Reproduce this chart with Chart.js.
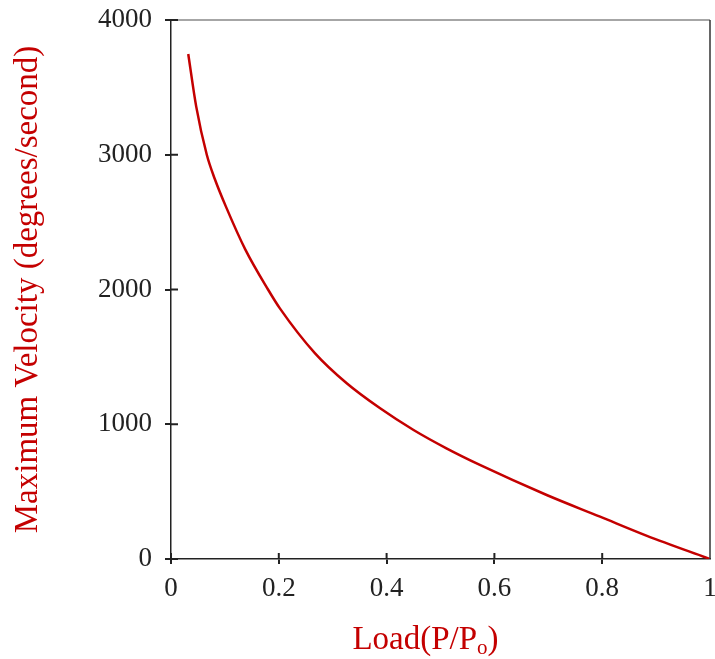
<!DOCTYPE html>
<html>
<head>
<meta charset="utf-8">
<title>Load vs Maximum Velocity</title>
<script src="https://cdn.jsdelivr.net/npm/chart.js@4/dist/chart.umd.min.js"></script>
<style>
  html, body { margin: 0; padding: 0; background: #fff; }
  #chart { display: block; }
</style>
</head>
<body>
<canvas id="chart" width="715" height="659"></canvas>
<script>
// load (fraction of P0) vs maximum shortening velocity
const LOAD = [0.032, 0.0468, 0.0664, 0.0811, 0.1019, 0.1375, 0.18, 0.202, 0.2673, 0.326, 0.388, 0.45, 0.511, 0.573, 0.697, 0.796, 0.883, 1.0];
const VELOCITY = [3748, 3357, 3000, 2822, 2615, 2300, 2000, 1860, 1526, 1304, 1118, 957, 821, 698, 475, 314, 172, 0];

const X_TICKS = [0, 0.2, 0.4, 0.6, 0.8, 1];
const Y_TICKS = [0, 1000, 2000, 3000, 4000];

const RED = '#c40000';
const INK = '#222';
const FONT = 'Liberation Serif';

// closes the box (top + right) and draws the inner half of each tick mark
const framePlugin = {
  id: 'frame',
  afterDraw(chart) {
    const { ctx, chartArea: a, scales } = chart;
    ctx.save();
    ctx.lineWidth = 1.5;
    ctx.strokeStyle = '#888';
    ctx.beginPath();
    ctx.moveTo(a.left, a.top);
    ctx.lineTo(a.right, a.top);
    ctx.stroke();
    ctx.strokeStyle = '#333';
    ctx.beginPath();
    ctx.moveTo(a.right, a.top);
    ctx.lineTo(a.right, a.bottom);
    ctx.stroke();

    ctx.strokeStyle = INK;
    ctx.lineWidth = 2;
    scales.x.ticks.forEach(t => {
      if (t.value === 1) return;
      const px = scales.x.getPixelForValue(t.value);
      ctx.beginPath();
      ctx.moveTo(px, a.bottom);
      ctx.lineTo(px, a.bottom - 6);
      ctx.stroke();
    });
    scales.y.ticks.forEach(t => {
      const py = scales.y.getPixelForValue(t.value);
      ctx.beginPath();
      ctx.moveTo(a.left, py);
      ctx.lineTo(a.left + 7, py);
      ctx.stroke();
    });
    ctx.restore();
  }
};

// x axis title with a subscript "o"
const xTitlePlugin = {
  id: 'xTitle',
  afterDraw(chart) {
    const { ctx, chartArea: a } = chart;
    const big = '33px "' + FONT + '"';
    const small = '21px "' + FONT + '"';
    const parts = [['Load(P/P', big, 0], ['o', small, 5], [')', big, 0]];
    ctx.save();
    ctx.fillStyle = RED;
    ctx.textBaseline = 'alphabetic';
    ctx.textAlign = 'left';
    let total = 0;
    parts.forEach(p => { ctx.font = p[1]; total += ctx.measureText(p[0]).width; });
    let x = (a.left + a.right) / 2 - 15 - total / 2;
    const y = chart.height - 10;
    parts.forEach(p => {
      ctx.font = p[1];
      ctx.fillText(p[0], x, y + p[2]);
      x += ctx.measureText(p[0]).width;
    });
    ctx.restore();
  }
};

const points = LOAD.map((x, i) => ({ x: x, y: VELOCITY[i] }));

new Chart(document.getElementById('chart'), {
  type: 'line',
  data: {
    datasets: [{
      data: points,
      borderColor: RED,
      borderWidth: 2.5,
      pointRadius: 0,
      fill: false,
      cubicInterpolationMode: 'monotone'
    }]
  },
  options: {
    responsive: false,
    animation: false,
    devicePixelRatio: 1,
    layout: { padding: { top: 20, right: 5, left: 0, bottom: 0 } },
    plugins: { legend: { display: false }, tooltip: { enabled: false } },
    scales: {
      x: {
        type: 'linear',
        min: 0,
        max: 1,
        afterBuildTicks: s => { s.ticks = X_TICKS.map(v => ({ value: v })); },
        afterFit: s => { s.height = 100; s.paddingRight = 5; s.paddingLeft = 0; },
        grid: {
          drawOnChartArea: false,
          tickLength: 5,
          lineWidth: 2,
          color: c => (c.tick && c.tick.value === 1) ? 'rgba(0,0,0,0)' : INK
        },
        border: { color: INK, width: 1.5 },
        ticks: {
          color: INK,
          padding: 9,
          maxRotation: 0,
          autoSkip: false,
          font: { family: FONT, size: 27 },
          callback: v => String(v)
        }
      },
      y: {
        min: 0,
        max: 4000,
        afterBuildTicks: s => { s.ticks = Y_TICKS.map(v => ({ value: v })); },
        afterFit: s => { s.width = 171; s.paddingTop = 0; s.paddingBottom = 0; },
        grid: { drawOnChartArea: false, tickLength: 6, lineWidth: 2, color: INK },
        border: { color: INK, width: 1.5 },
        ticks: {
          color: INK,
          padding: 13,
          font: { family: FONT, size: 27 },
          callback: v => String(v)
        },
        title: {
          display: true,
          text: 'Maximum Velocity (degrees/second)',
          color: RED,
          font: { family: FONT, size: 33 },
          padding: { top: 9, bottom: 0 }
        }
      }
    }
  },
  plugins: [framePlugin, xTitlePlugin]
});
</script>
</body>
</html>
